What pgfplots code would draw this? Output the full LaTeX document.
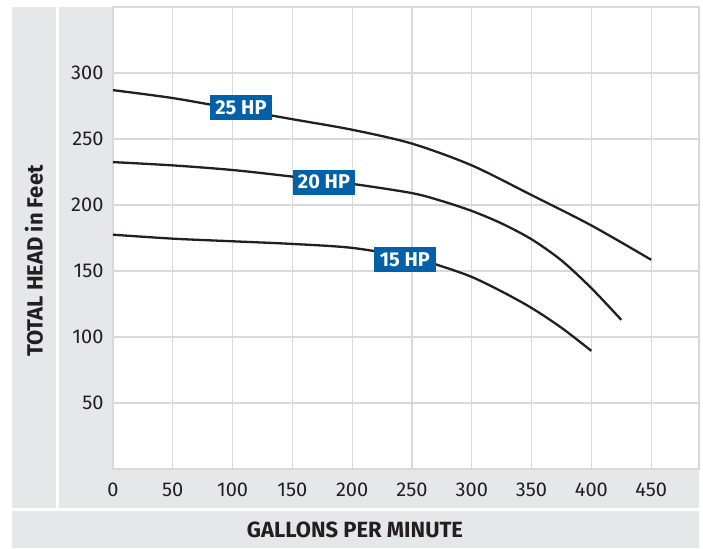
\documentclass[border=0pt]{standalone}
\usepackage{pgfplots}
\pgfplotsset{compat=1.18}
\usepackage{fontspec}
\setmainfont{Fira Sans}
\definecolor{panel}{HTML}{E6E7E8}
\definecolor{gridc}{HTML}{D9D9D9}
\definecolor{ink}{HTML}{231F20}
\definecolor{hpblue}{HTML}{0060A8}
\begin{document}
\begin{tikzpicture}[x=1pt,y=1pt]
\path[use as bounding box] (0,0) rectangle (703,548);
\fill[panel] (12,40) rectangle (56,541);
\fill[panel] (59,40) rectangle (699,541);
\fill[panel] (12,0) rectangle (699,37);
\node[font=\bfseries\fontsize{22}{24}\selectfont, text=ink] at (355,18) {GALLONS PER MINUTE};
\node[font=\bfseries\fontsize{22}{24}\selectfont, text=ink, rotate=90] at (34,287) {TOTAL HEAD in Feet};
\begin{axis}[
  at={(113pt,79pt)}, anchor=south west,
  scale only axis, width=586pt, height=462pt,
  xmin=0, xmax=490, ymin=0, ymax=350,
  xtick={0,50,...,450}, ytick={50,100,...,300},
  extra y ticks={350}, extra y tick labels={},
  extra y tick style={grid=major},
  grid=major, grid style={gridc, line width=1.3pt},
  axis line style={gridc, line width=1.3pt},
  axis background/.style={fill=white},
  tick style={draw=none},
  major tick length=0pt,
  /pgf/number format/assume math mode=true,
  ticklabel style={font=\fontsize{20}{22}\selectfont, text=ink},
  xticklabel style={yshift=-10pt},
  yticklabel style={xshift=-6pt},
  clip=false,
]
\addplot[ink, line width=2.3pt, smooth] coordinates {
 (0,287) (50,281) (100,273) (150,265) (200,257) (250,246.5) (300,230) (350,207.5) (400,184.5) (450,158.5)};
\addplot[ink, line width=2.3pt, smooth] coordinates {
 (0,232.5) (50,230) (100,226.5) (150,221.5) (200,216) (250,209) (275,203) (300,195.5) (325,186) (350,174) (375,158) (400,137) (425,113)};
\addplot[ink, line width=2.3pt, smooth] coordinates {
 (0,177.5) (50,174.5) (100,172.5) (150,170.5) (200,167.5) (250,160) (275,153.5) (300,145.5) (325,134.5) (350,122) (375,107) (400,89.5)};
\node[fill=hpblue, text=white, font=\bfseries\fontsize{20}{22}\selectfont, minimum width=62pt, minimum height=25pt, inner sep=0pt] at (axis cs:107,273.5) {25 HP};
\node[fill=hpblue, text=white, font=\bfseries\fontsize{20}{22}\selectfont, minimum width=62pt, minimum height=25pt, inner sep=0pt] at (axis cs:176.4,217.4) {20 HP};
\node[fill=hpblue, text=white, font=\bfseries\fontsize{20}{22}\selectfont, minimum width=62pt, minimum height=25pt, inner sep=0pt] at (axis cs:244.1,158.6) {15 HP};
\end{axis}
\end{tikzpicture}
\end{document}
